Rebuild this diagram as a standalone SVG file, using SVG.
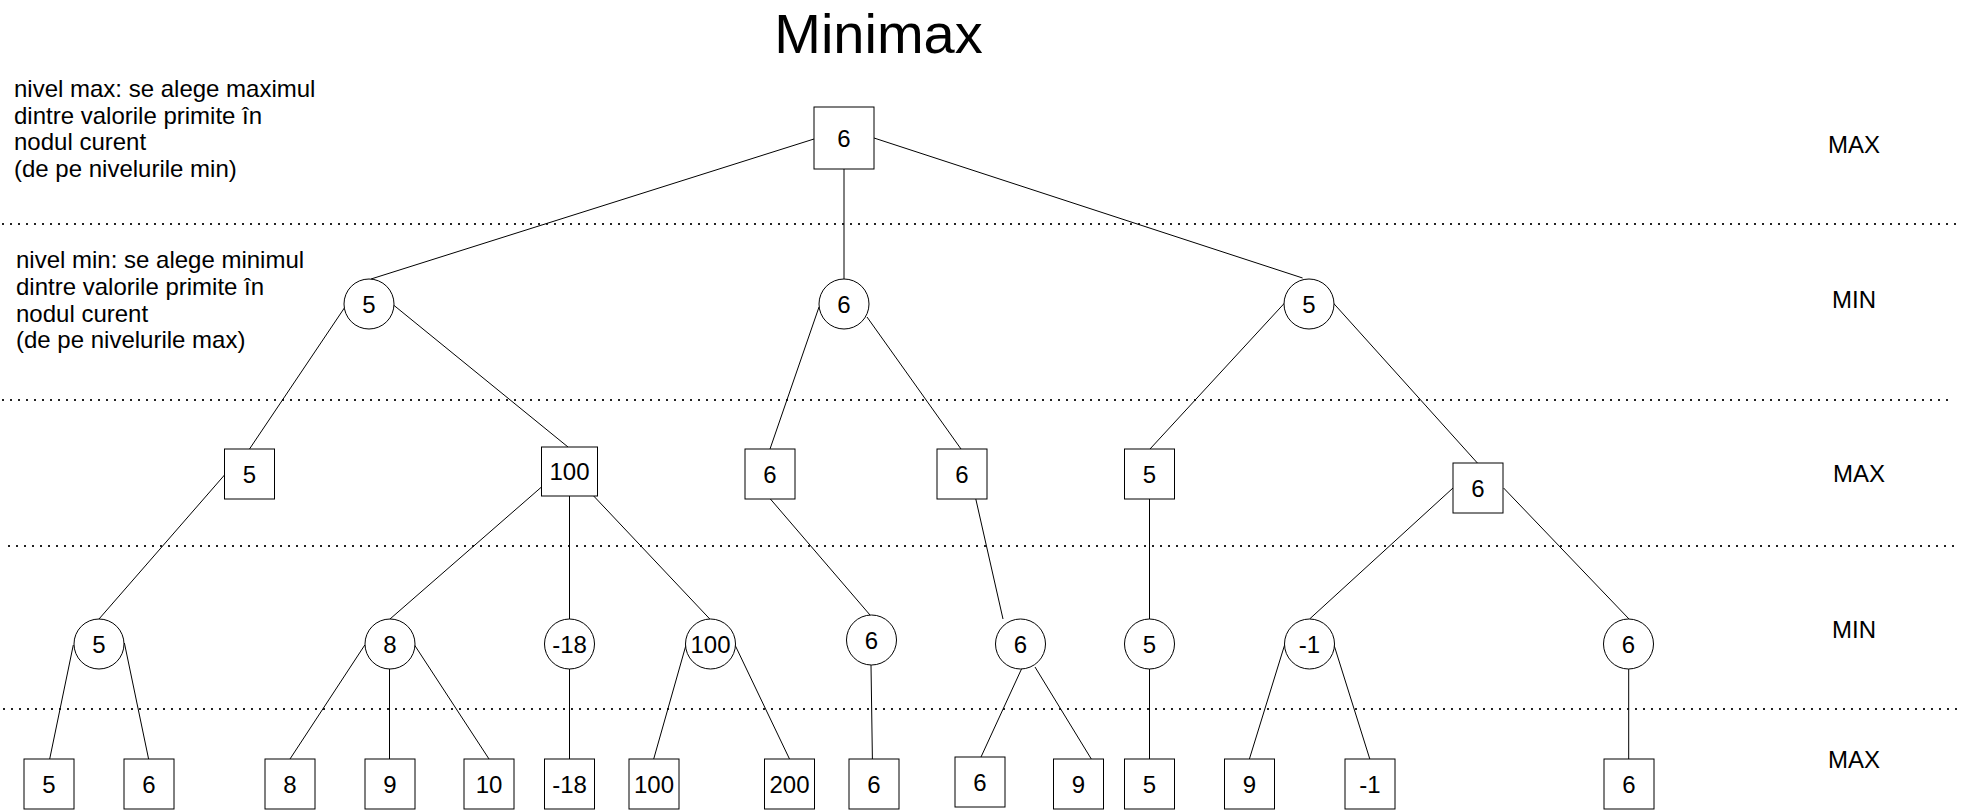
<svg xmlns="http://www.w3.org/2000/svg" width="1964" height="810" viewBox="0 0 1964 810">
<style>
.bg{fill:#fff}
.n{fill:#fff;stroke:#000;stroke-width:1}
.t{font-family:"Liberation Sans",Arial,sans-serif;font-size:24px;fill:#000;text-anchor:middle}
.d{stroke:#222;stroke-width:2;stroke-dasharray:2 6;fill:none}
.e{stroke:#000;stroke-width:1;fill:none}
.lab{font-family:"Liberation Sans",Arial,sans-serif;font-size:24px;fill:#000}
.title{font-family:"Liberation Sans",Arial,sans-serif;font-size:56px;fill:#000;text-anchor:middle}
</style>
<rect class="bg" x="0" y="0" width="1964" height="810"/>
<g id="separators">
<line class="d" x1="2" y1="224" x2="1956" y2="224"/>
<line class="d" x1="2" y1="400" x2="1948" y2="400"/>
<line class="d" x1="8" y1="546" x2="1956" y2="546"/>
<line class="d" x1="3" y1="709" x2="1958" y2="709"/>
</g>
<g id="title"><text class="title" x="878.5" y="53">Minimax</text></g>
<g id="note-max"><text class="lab" x="14" y="97"><tspan x="14">nivel max: se alege maximul</tspan><tspan x="14" dy="26.5">dintre valorile primite în</tspan><tspan x="14" dy="26.5">nodul curent</tspan><tspan x="14" dy="26.5">(de pe nivelurile min)</tspan></text></g>
<g id="note-min"><text class="lab" x="16" y="268"><tspan x="16">nivel min: se alege minimul</tspan><tspan x="16" dy="26.8">dintre valorile primite în</tspan><tspan x="16" dy="26.8">nodul curent</tspan><tspan x="16" dy="26.8">(de pe nivelurile max)</tspan></text></g>
<g id="level-labels">
<text class="t" x="1854" y="153">MAX</text>
<text class="t" x="1854" y="308">MIN</text>
<text class="t" x="1859" y="482">MAX</text>
<text class="t" x="1854" y="638">MIN</text>
<text class="t" x="1854" y="768">MAX</text>
</g>
<g id="connectors">
<line class="e" x1="814" y1="139" x2="371" y2="279"/>
<line class="e" x1="844" y1="169" x2="844" y2="279"/>
<line class="e" x1="874" y1="138" x2="1302.6" y2="278"/>
<line class="e" x1="345" y1="307" x2="249.5" y2="449"/>
<line class="e" x1="393.5" y1="305" x2="568" y2="447"/>
<line class="e" x1="819" y1="307" x2="770" y2="449"/>
<line class="e" x1="867" y1="317" x2="961" y2="449"/>
<line class="e" x1="1284.6" y1="303" x2="1150" y2="449"/>
<line class="e" x1="1333.3" y1="303" x2="1477.4" y2="463"/>
<line class="e" x1="224.5" y1="475" x2="99" y2="619"/>
<line class="e" x1="541.5" y1="487" x2="390" y2="619"/>
<line class="e" x1="569.5" y1="496" x2="569.5" y2="619"/>
<line class="e" x1="593.7" y1="496" x2="709.8" y2="619"/>
<line class="e" x1="770.4" y1="499" x2="870" y2="615"/>
<line class="e" x1="975.8" y1="499" x2="1003" y2="619"/>
<line class="e" x1="1149.5" y1="499" x2="1149.5" y2="619"/>
<line class="e" x1="1453" y1="488" x2="1309.6" y2="619"/>
<line class="e" x1="1503.6" y1="488" x2="1629" y2="619"/>
<line class="e" x1="73.3" y1="645" x2="49.7" y2="759"/>
<line class="e" x1="124.4" y1="643" x2="148.6" y2="759"/>
<line class="e" x1="364.8" y1="645" x2="290" y2="759"/>
<line class="e" x1="389.5" y1="669" x2="389.5" y2="759"/>
<line class="e" x1="414.5" y1="645" x2="489" y2="759"/>
<line class="e" x1="569.5" y1="669" x2="569.5" y2="759"/>
<line class="e" x1="686" y1="645" x2="653.7" y2="759"/>
<line class="e" x1="735" y1="645" x2="789.5" y2="759"/>
<line class="e" x1="871" y1="665" x2="872.4" y2="759"/>
<line class="e" x1="1021.5" y1="669" x2="981" y2="757"/>
<line class="e" x1="1035" y1="667" x2="1091.3" y2="759"/>
<line class="e" x1="1149.5" y1="669" x2="1149.5" y2="759"/>
<line class="e" x1="1284.6" y1="645" x2="1249.4" y2="759"/>
<line class="e" x1="1334" y1="645" x2="1369.8" y2="759"/>
<line class="e" x1="1628.7" y1="669" x2="1628.7" y2="759"/>
</g>
<g id="root"><rect class="n" x="814" y="107" width="60" height="62"/><text class="t" x="844" y="146.5">6</text></g>
<g id="min1-a"><circle class="n" cx="369" cy="304" r="25"/><text class="t" x="369" y="312.5">5</text></g>
<g id="min1-b"><circle class="n" cx="844" cy="304" r="25"/><text class="t" x="844" y="312.5">6</text></g>
<g id="min1-c"><circle class="n" cx="1309" cy="304" r="25"/><text class="t" x="1309" y="312.5">5</text></g>
<g id="max2-a"><rect class="n" x="224.5" y="449" width="50" height="50"/><text class="t" x="249.5" y="482.5">5</text></g>
<g id="max2-b"><rect class="n" x="541.5" y="447" width="56" height="49"/><text class="t" x="569.5" y="480">100</text></g>
<g id="max2-c"><rect class="n" x="745" y="449" width="50" height="50"/><text class="t" x="770" y="482.5">6</text></g>
<g id="max2-d"><rect class="n" x="937" y="449" width="50" height="50"/><text class="t" x="962" y="482.5">6</text></g>
<g id="max2-e"><rect class="n" x="1124.5" y="449" width="50" height="50"/><text class="t" x="1149.5" y="482.5">5</text></g>
<g id="max2-f"><rect class="n" x="1453" y="463" width="50" height="50"/><text class="t" x="1478" y="496.5">6</text></g>
<g id="min3-a"><circle class="n" cx="99" cy="644" r="25"/><text class="t" x="99" y="652.5">5</text></g>
<g id="min3-b"><circle class="n" cx="390" cy="644" r="25"/><text class="t" x="390" y="652.5">8</text></g>
<g id="min3-c"><circle class="n" cx="569.5" cy="644" r="25"/><text class="t" x="569.5" y="652.5">-18</text></g>
<g id="min3-d"><circle class="n" cx="710.5" cy="644" r="25"/><text class="t" x="710.5" y="652.5">100</text></g>
<g id="min3-e"><circle class="n" cx="871.5" cy="640" r="25"/><text class="t" x="871.5" y="648.5">6</text></g>
<g id="min3-f"><circle class="n" cx="1020.5" cy="644" r="25"/><text class="t" x="1020.5" y="652.5">6</text></g>
<g id="min3-g"><circle class="n" cx="1149.5" cy="644" r="25"/><text class="t" x="1149.5" y="652.5">5</text></g>
<g id="min3-h"><circle class="n" cx="1309.5" cy="644" r="25"/><text class="t" x="1309.5" y="652.5">-1</text></g>
<g id="min3-i"><circle class="n" cx="1628.5" cy="644" r="25"/><text class="t" x="1628.5" y="652.5">6</text></g>
<g id="leaf-1"><rect class="n" x="24" y="759" width="50" height="50"/><text class="t" x="49" y="792.5">5</text></g>
<g id="leaf-2"><rect class="n" x="124" y="759" width="50" height="50"/><text class="t" x="149" y="792.5">6</text></g>
<g id="leaf-3"><rect class="n" x="265" y="759" width="50" height="50"/><text class="t" x="290" y="792.5">8</text></g>
<g id="leaf-4"><rect class="n" x="365" y="759" width="50" height="50"/><text class="t" x="390" y="792.5">9</text></g>
<g id="leaf-5"><rect class="n" x="464" y="759" width="50" height="50"/><text class="t" x="489" y="792.5">10</text></g>
<g id="leaf-6"><rect class="n" x="544.5" y="759" width="50" height="50"/><text class="t" x="569.5" y="792.5">-18</text></g>
<g id="leaf-7"><rect class="n" x="629" y="759" width="50" height="50"/><text class="t" x="654" y="792.5">100</text></g>
<g id="leaf-8"><rect class="n" x="764.5" y="759" width="50" height="50"/><text class="t" x="789.5" y="792.5">200</text></g>
<g id="leaf-9"><rect class="n" x="849" y="759" width="50" height="50"/><text class="t" x="874" y="792.5">6</text></g>
<g id="leaf-10"><rect class="n" x="955" y="757" width="50" height="50"/><text class="t" x="980" y="790.5">6</text></g>
<g id="leaf-11"><rect class="n" x="1053.5" y="759" width="50" height="50"/><text class="t" x="1078.5" y="792.5">9</text></g>
<g id="leaf-12"><rect class="n" x="1124.5" y="759" width="50" height="50"/><text class="t" x="1149.5" y="792.5">5</text></g>
<g id="leaf-13"><rect class="n" x="1224.5" y="759" width="50" height="50"/><text class="t" x="1249.5" y="792.5">9</text></g>
<g id="leaf-14"><rect class="n" x="1345" y="759" width="50" height="50"/><text class="t" x="1370" y="792.5">-1</text></g>
<g id="leaf-15"><rect class="n" x="1604" y="759" width="50" height="50"/><text class="t" x="1629" y="792.5">6</text></g>
</svg>
